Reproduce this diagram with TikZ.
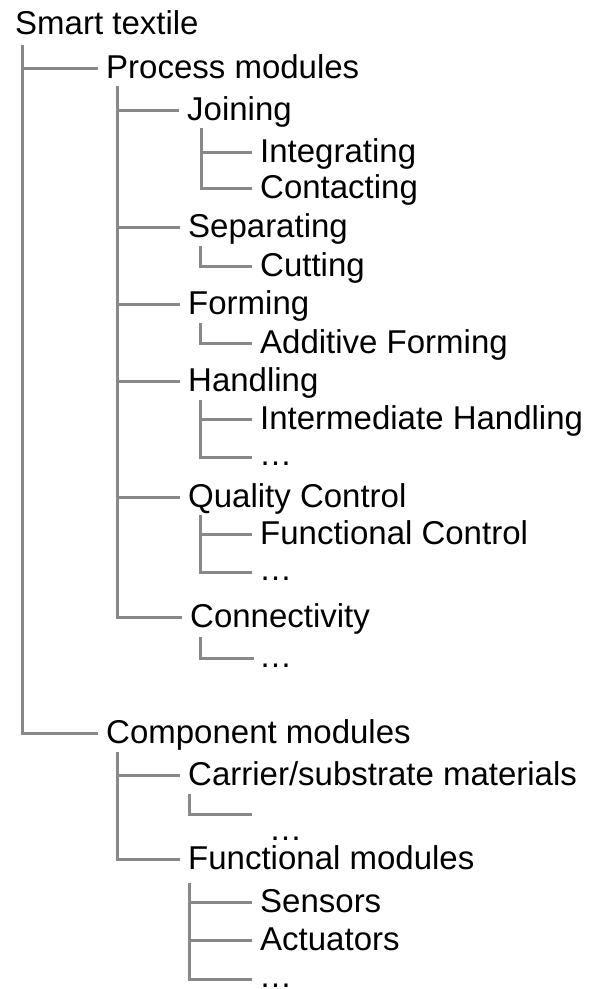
\documentclass[tikz,border=0pt]{standalone}
\usepackage{fontspec}
\setmainfont{Liberation Sans}
\definecolor{linegray}{HTML}{888888}
\begin{document}
\begin{tikzpicture}[x=1pt,y=-1pt,
  lbl/.style={anchor=base west, inner sep=0pt, font=\fontsize{33}{40}\selectfont},
  br/.style={draw=linegray, line width=3pt}]
\useasboundingbox (0,0) rectangle (589,989);
% labels
\node[lbl] (root) at (15,34) {Smart textile};
\node[lbl] (pm) at (106,78.5) {Process modules};
\node[lbl] (join) at (187,120.5) {Joining};
\node[lbl] (integ) at (260,162.5) {Integrating};
\node[lbl] (cont) at (260,198.5) {Contacting};
\node[lbl] (sep) at (188,237.5) {Separating};
\node[lbl] (cut) at (260,276.5) {Cutting};
\node[lbl] (form) at (188,314.5) {Forming};
\node[lbl] (add) at (260,353.5) {Additive Forming};
\node[lbl] (hand) at (188,391.5) {Handling};
\node[lbl] (inter) at (260,429.5) {Intermediate Handling};
\node[lbl] (hdots) at (259,465) {…};
\node[lbl] (qc) at (188,507.5) {Quality Control};
\node[lbl] (fc) at (260,544.5) {Functional Control};
\node[lbl] (qdots) at (259,580) {…};
\node[lbl] (conn) at (190,627.5) {Connectivity};
\node[lbl] (cdots) at (259,667) {…};
\node[lbl] (cm) at (106,743.5) {Component modules};
\node[lbl] (carr) at (188,785.5) {Carrier/substrate materials};
\node[lbl] (carrdots) at (269,840) {…};
\node[lbl] (fm) at (188,869.5) {Functional modules};
\node[lbl] (sens) at (260,912.5) {Sensors};
\node[lbl] (act) at (260,950.5) {Actuators};
\node[lbl] (fdots) at (259,987) {…};
% trunk tops
\coordinate (t0) at (22,45);
\coordinate (t1) at (117,86);
\coordinate (tj) at (201,128);
\coordinate (ts) at (200,246);
\coordinate (tf) at (200,323);
\coordinate (th) at (200,400);
\coordinate (tq) at (200,515);
\coordinate (tc) at (200,637);
\coordinate (t2) at (117,752);
\coordinate (tca) at (189,794);
\coordinate (tfm) at (189,883);
% free ends for the dots
\coordinate (ehd) at (252,457);
\coordinate (eqd) at (252,572);
\coordinate (ecd) at (254,658);
\coordinate (ecar) at (252,814);
\coordinate (efd) at (252,979);
% connectors
\draw[br] (t0) |- ([shift={(-8,-10.5)}]pm.base west);
\draw[br] (t0) |- ([shift={(-8,-10.5)}]cm.base west);
\draw[br] (t1) |- ([shift={(-8,-10.5)}]join.base west);
\draw[br] (t1) |- ([shift={(-8,-10.5)}]sep.base west);
\draw[br] (t1) |- ([shift={(-8,-10.5)}]form.base west);
\draw[br] (t1) |- ([shift={(-8,-10.5)}]hand.base west);
\draw[br] (t1) |- ([shift={(-8,-10.5)}]qc.base west);
\draw[br] (t1) |- ([shift={(-8,-10.5)}]conn.base west);
\draw[br] (tj) |- ([shift={(-8,-10.5)}]integ.base west);
\draw[br] (tj) |- ([shift={(-8,-10.5)}]cont.base west);
\draw[br] (ts) |- ([shift={(-8,-10.5)}]cut.base west);
\draw[br] (tf) |- ([shift={(-8,-10.5)}]add.base west);
\draw[br] (th) |- ([shift={(-8,-10.5)}]inter.base west);
\draw[br] (th) |- (ehd);
\draw[br] (tq) |- ([shift={(-8,-10.5)}]fc.base west);
\draw[br] (tq) |- (eqd);
\draw[br] (tc) |- (ecd);
\draw[br] (t2) |- ([shift={(-8,-10.5)}]carr.base west);
\draw[br] (t2) |- ([shift={(-8,-10.5)}]fm.base west);
\draw[br] (tca) |- (ecar);
\draw[br] (tfm) |- ([shift={(-8,-10.5)}]sens.base west);
\draw[br] (tfm) |- ([shift={(-8,-10.5)}]act.base west);
\draw[br] (tfm) |- (efd);
\end{tikzpicture}
\end{document}
